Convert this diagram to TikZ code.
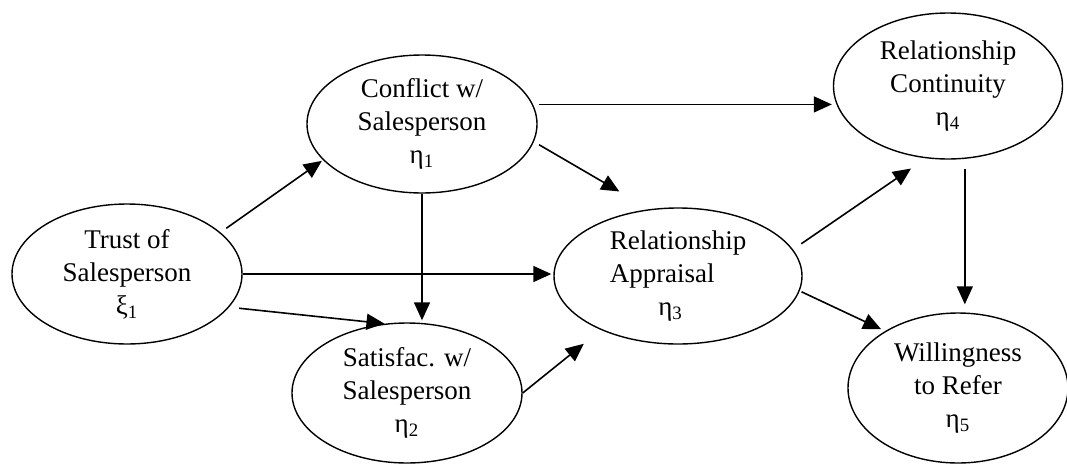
\documentclass[tikz,border=0pt]{standalone}
\usepackage{fontspec}
\setmainfont{Liberation Serif}
\usetikzlibrary{shapes.geometric,arrows.meta}

\tikzset{
	construct/.style={ellipse, draw, line width=0.7pt, inner sep=0pt, align=center,
		minimum width=115pt, minimum height=70pt, font=\fontsize{13.5}{16.5}\selectfont},
	link/.style={-{Triangle[length=9pt,width=8pt]}, line width=0.8pt}
}

\begin{document}
\begin{tikzpicture}[x=0.5pt,y=-0.5pt]
	\useasboundingbox (0,0) rectangle (1067,467);
	
	% constructs
	\node[construct] (trust) at (127,274) {Trust of\\Salesperson\\ξ\textsubscript{1}};
	\node[construct, minimum height=69pt] (conf) at (422,124) {Conflict w/\\Salesperson\\η\textsubscript{1}};
	\node[construct] (satis) at (407,393) {Satisfac. w/\\Salesperson\\η\textsubscript{2}};
	\node[construct, minimum width=124pt, minimum height=68pt, align=left] (appr) at (678,276) {Relationship\\Appraisal\\\hspace*{1.8em}η\textsubscript{3}};
	\node[construct, minimum width=114.5pt, minimum height=73pt] (cont) at (948,86) {Relationship\\Continuity\\η\textsubscript{4}};
	\node[construct, minimum width=110pt, minimum height=75pt] (will) at (958,388) {Willingness\\to Refer\\η\textsubscript{5}};
	
	% paths
	\draw [link, shorten <=3.5pt, shorten >=0.7pt] (trust.24.6) -- (conf.200.3);
	\draw [link, shorten >=1pt] (trust.east) -- (trust.east -| appr.west);
	\draw [link, shorten <=5pt] (trust.-18.8) -- (satis.108);
	\draw [link, shorten >=1pt] (conf.south) -- (conf.south |- satis.north);
	\draw [link, shorten <=3pt, shorten >=0.5pt] (conf.10) -- (conf.10 -| cont.west);
	\draw [link, shorten <=3pt, shorten >=17.5pt] (conf.-9) -- (appr.113.7);
	\draw [link, shorten >=11pt] (satis.east) -- (appr.215.5);
	\draw [link, shorten <=5pt, shorten >=9pt] (appr.13.6) -- (cont.253.8);
	\draw [link, shorten <=1pt, shorten >=2.2pt] (appr.-7.1) -- (will.142.5);
	\draw [link, shorten <=5pt, shorten >=4pt] (cont.-77) -- (cont.-77 |- will.north);
	
\end{tikzpicture}
\end{document}
